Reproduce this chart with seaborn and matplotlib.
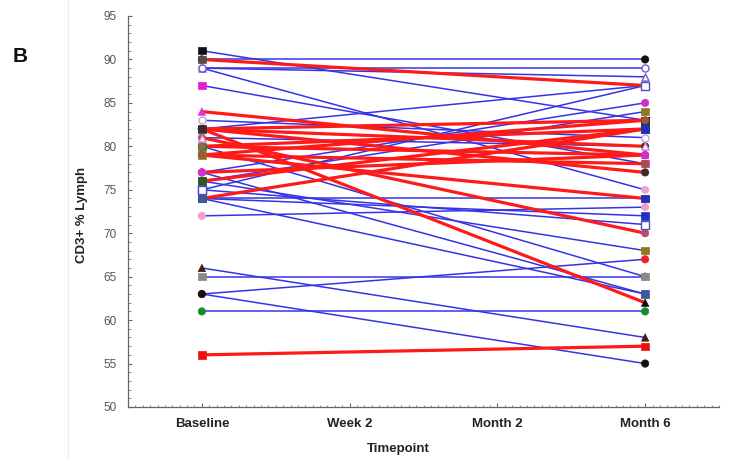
import matplotlib
matplotlib.use("Agg")
import matplotlib.pyplot as plt
from matplotlib.ticker import MultipleLocator
from matplotlib.lines import Line2D
import numpy as np
import pandas as pd
import seaborn as sns

# Timepoint categories on the x axis
timepoints = ["Baseline", "Week 2", "Month 2", "Month 6"]

# CD3+ % of lymphocytes per subject at Baseline and Month 6
baseline = [91, 90, 90, 89, 89, 89, 87, 84, 83, 82, 82, 82, 82, 82, 81, 81,
            80, 80, 80, 79, 79, 79, 77, 77, 77, 76, 76, 76, 75, 75, 74, 74,
            74, 74, 72, 66, 65, 63, 63, 61, 56]
month6 = [83, 90, 87, 89, 88, 75, 78, 79, 81, 62, 87, 83, 77, 80, 80, 70,
          82, 65, 79, 83, 74, 78, 85, 63, 79, 84, 68, 82, 87, 71, 82, 74,
          72, 63, 73, 58, 65, 67, 55, 61, 57]
# Cohort of each subject (drawn blue / red)
cohort = ["A", "A", "B", "A", "A", "A", "A", "B", "A", "B", "A", "B", "B", "B", "A", "B",
          "B", "A", "B", "B", "B", "B", "A", "A", "B", "A", "A", "B", "A", "A", "B", "A",
          "A", "A", "A", "A", "A", "A", "A", "A", "B"]
# Per-subject symbol, symbol colour and fill
marker_shape = ["s", "o", "s", "o", "^", "o", "s", "^", "o", "^", "o", "s", "o", "o", "^", "o",
                "s", "o", "o", "o", "s", "o", "o", "o", "o", "s", "s", "s", "s", "s", "s", "s",
                "s", "s", "o", "^", "s", "o", "o", "o", "s"]
marker_color = ["#111111", "#111111", "#5a4a4a", "#6a5fd0", "#6a5fd0", "#e8a8c8", "#e020d0",
                "#e030e0", "#c8a0d8", "#111111", "#222222", "#3a2a2a", "#3a2a2a", "#3a2a2a",
                "#d080c0", "#b05070", "#2a7a3a", "#2a7a3a", "#8a6a4a", "#9a5a3a", "#8a7a20",
                "#9a5a3a", "#d030d0", "#d030d0", "#d030d0", "#8a7a20", "#8a7a20", "#2a5a2a",
                "#5050c0", "#5050c0", "#2030c0", "#2030c0", "#2030c0", "#3a5a9a", "#f0a0c0",
                "#4a1a1a", "#8a8a8a", "#ee2020", "#111111", "#1a8a2a", "#ee1010"]
marker_filled = [True, True, True, False, False, True, True, True, False, True, True, True,
                 True, True, False, True, True, True, True, True, True, True, True, True,
                 True, True, True, True, False, False, True, True, True, True, True, True,
                 True, True, True, True, True]

cohort_colors = {"A": "#3434e6", "B": "#ff1a1a"}
cohort_widths = {"A": 1.1, "B": 2.3}

n = len(baseline)
subjects = [f"S{i:02d}" for i in range(n)]
df = pd.DataFrame({
    "subject": subjects * 2,
    "time": [0] * n + [3] * n,
    "value": baseline + month6,
    "cohort": cohort * 2,
    "shape": marker_shape * 2,
    "mcolor": marker_color * 2,
    "filled": marker_filled * 2,
})

sns.set_style("ticks")
plt.rcParams["font.family"] = ["Liberation Sans", "DejaVu Sans"]

fig = plt.figure(figsize=(7.29, 4.59), dpi=100)
ax = fig.add_axes([128 / 729, 1 - 407 / 459, 591 / 729, 391 / 459])

# Subject trajectories, thin blue first, thick red on top
for grp in ["A", "B"]:
    sub = df[df["cohort"] == grp]
    sns.lineplot(data=sub, x="time", y="value", units="subject", estimator=None,
                 color=cohort_colors[grp], lw=cohort_widths[grp], sort=False,
                 legend=False, ax=ax, zorder=2 if grp == "A" else 3)

# End-point symbols
filled = df[df["filled"]]
sns.scatterplot(data=filled, x="time", y="value", hue="subject", style="subject",
                palette=dict(zip(subjects, marker_color)),
                markers=dict(zip(subjects, marker_shape)),
                s=28, edgecolor="face", linewidth=0.5, legend=False, ax=ax, zorder=4)
hollow = df[~df["filled"]]
for (shp, col), part in hollow.groupby(["shape", "mcolor"]):
    sns.scatterplot(data=part, x="time", y="value", marker=shp, color="white",
                    edgecolor=col, linewidth=1.0, s=26, legend=False, ax=ax, zorder=4)

ax.set_xlim(-0.5, 3.5)
ax.set_ylim(50, 95)
ax.set_xticks(range(len(timepoints)))
ax.set_xticklabels(timepoints, fontweight="bold", fontsize=9.5, color="#222222")
ax.set_yticks(range(50, 96, 5))
ax.tick_params(axis="y", labelsize=8.5, labelcolor="#555555")
ax.xaxis.set_minor_locator(MultipleLocator(0.05))
ax.yaxis.set_minor_locator(MultipleLocator(1))
ax.tick_params(which="major", direction="in", length=3, width=0.8, color="#666666", pad=8)
ax.tick_params(which="minor", direction="in", length=1.8, width=0.6, color="#777777")

for side in ["top", "right"]:
    ax.spines[side].set_visible(False)
for side in ["left", "bottom"]:
    ax.spines[side].set_color("#666666")
    ax.spines[side].set_linewidth(0.9)

ax.set_xlabel("Timepoint", fontweight="bold", fontsize=9.5, color="#222222")
ax.set_ylabel("CD3+ % Lymph", fontweight="bold", fontsize=9.5, color="#222222")
ax.xaxis.set_label_coords(0.457, -0.092)
ax.yaxis.set_label_coords(-0.068, 0.49)

# Panel letter and faint panel divider
fig.text(20 / 729, 1 - 57 / 459, "B", fontsize=15, fontweight="bold",
         ha="center", va="center", color="#111111")
fig.add_artist(Line2D([68 / 729, 68 / 729], [0, 1], color="#ececec", lw=0.8))

fig.savefig("out.png", dpi=100)
